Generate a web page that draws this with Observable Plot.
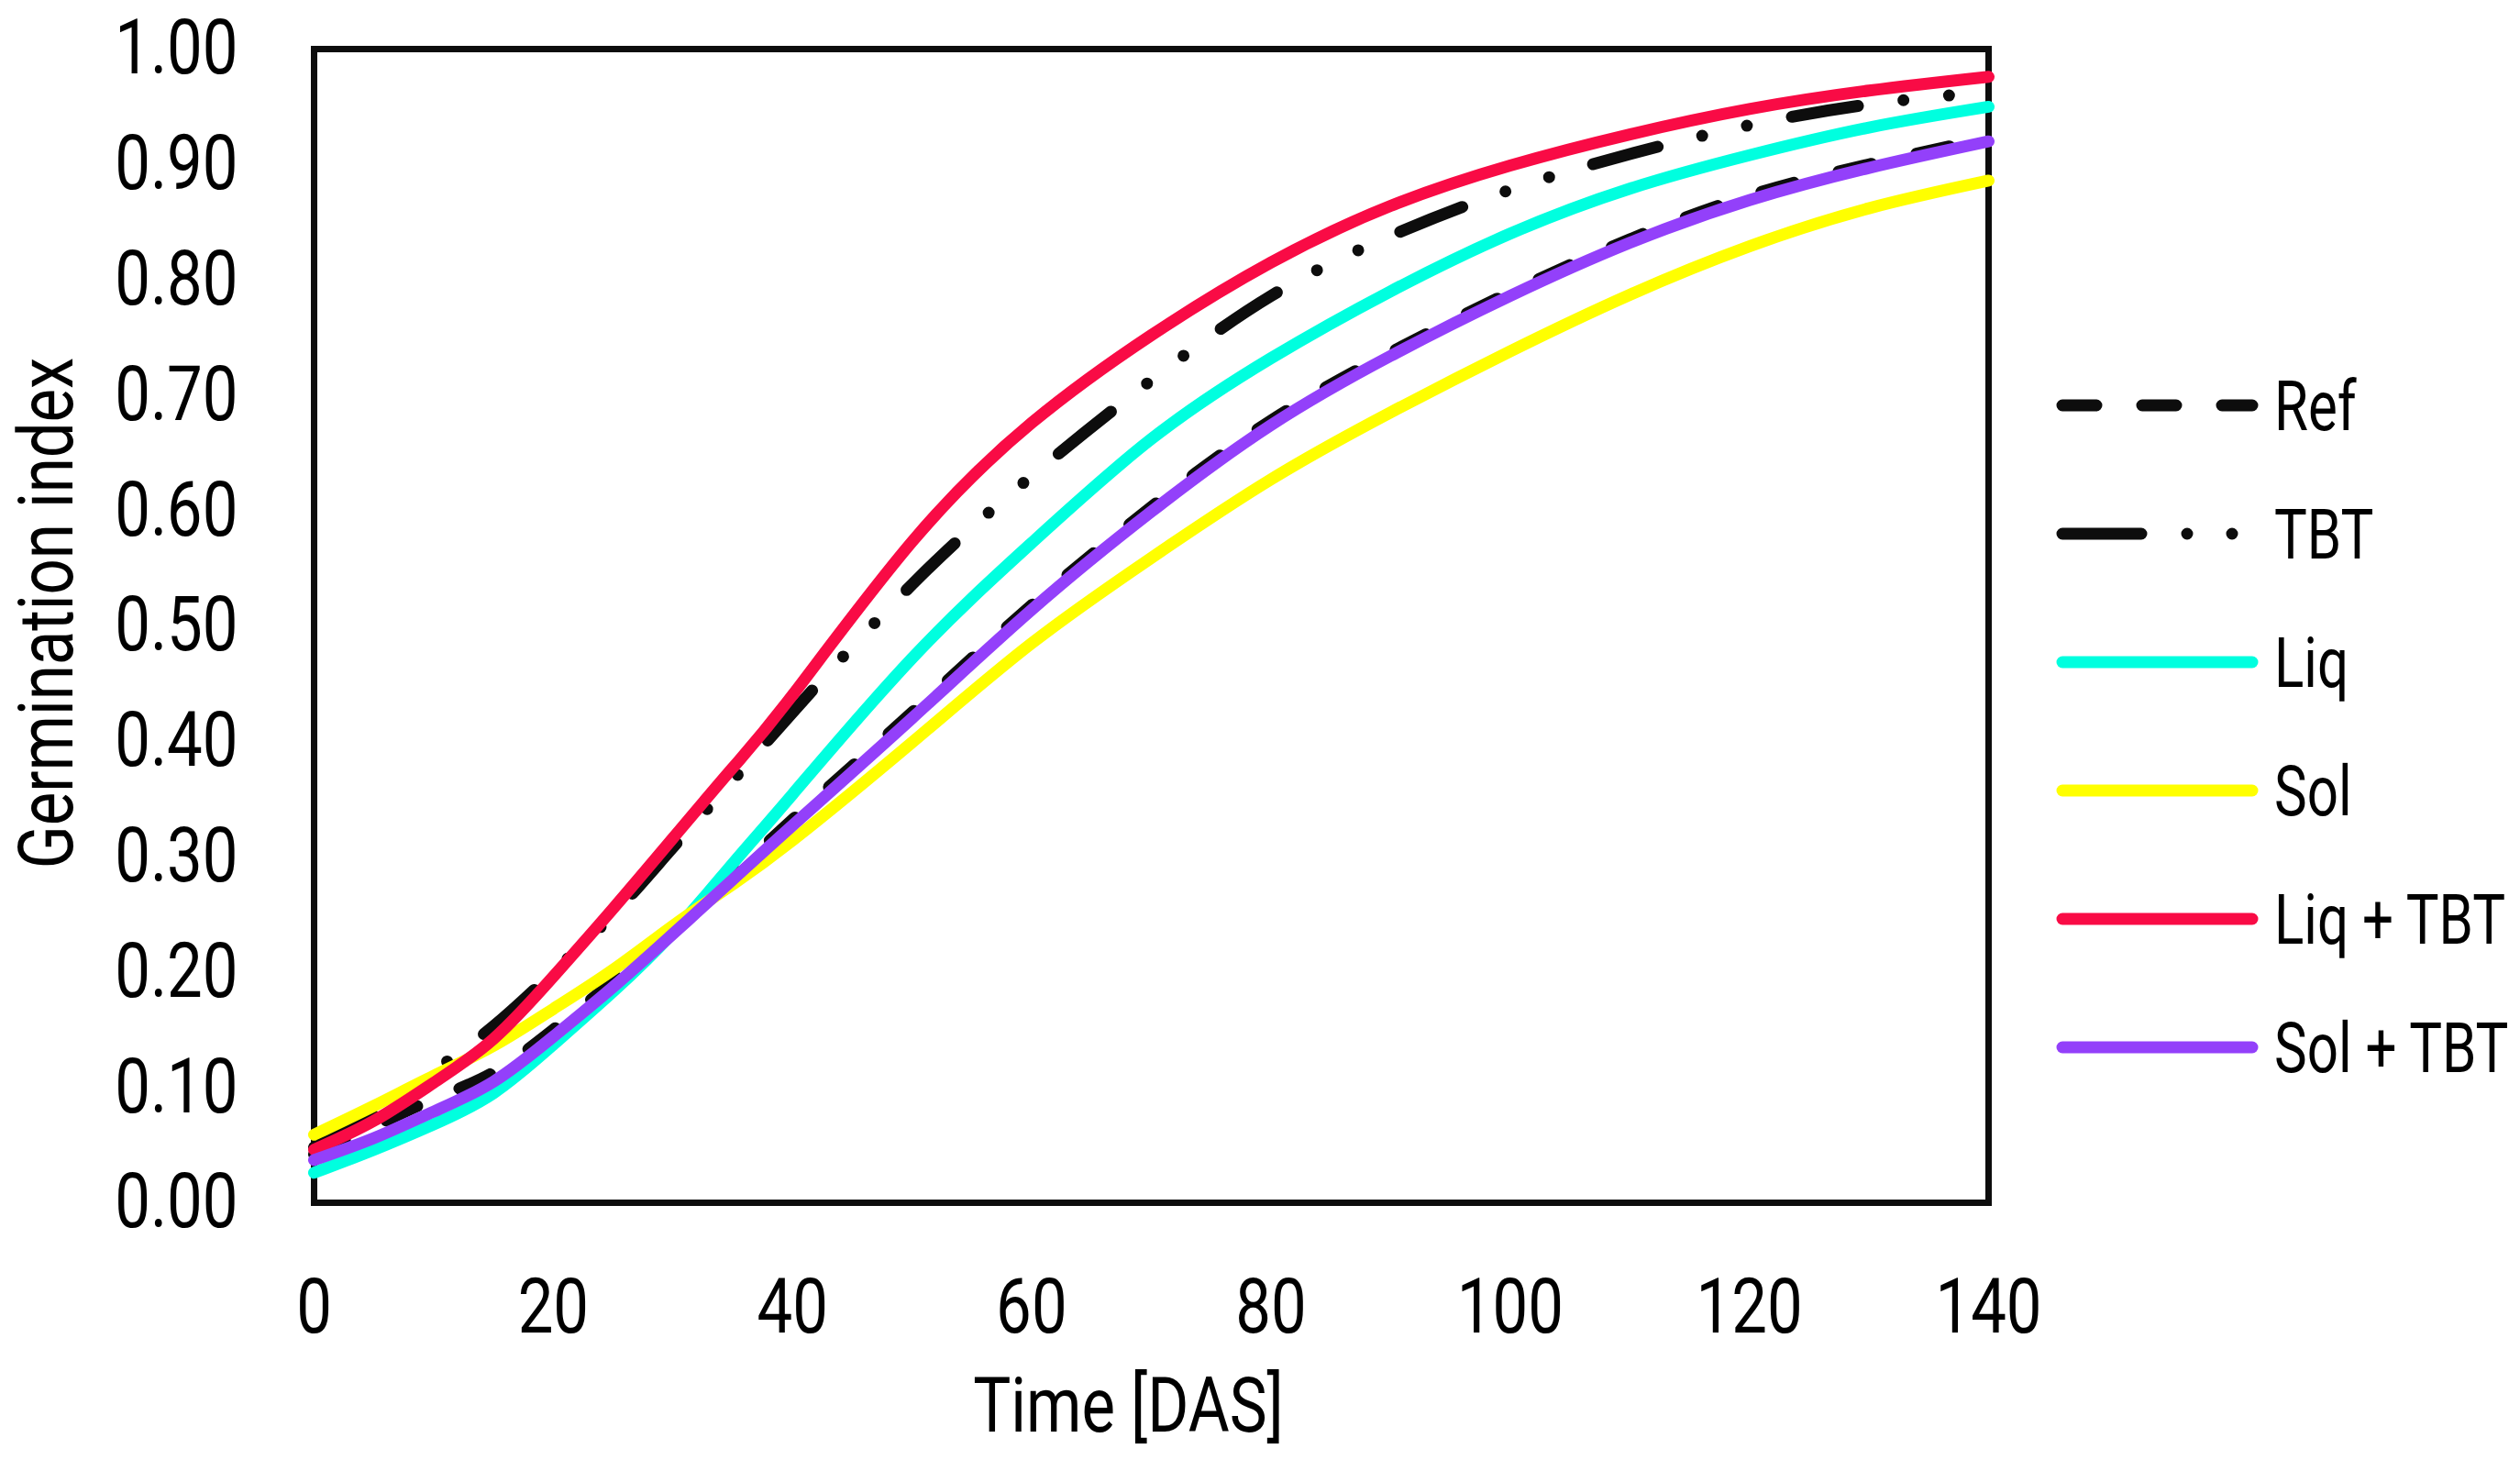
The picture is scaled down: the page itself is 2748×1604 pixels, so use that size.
<!DOCTYPE html>
<html>
<head>
<meta charset="utf-8">
<script src="https://cdn.jsdelivr.net/npm/d3@7"></script>
<script src="https://cdn.jsdelivr.net/npm/@observablehq/plot@0.6"></script>
<style>
  body { margin: 0; background: white; }
  #chart { position: relative; width: 2748px; height: 1604px; }
  #chart svg { position: absolute; left: 0; top: 0; }
</style>
</head>
<body>
<div id="chart"></div>
<script>
const days = [0, 5, 10, 15, 20, 25, 30, 35, 40, 50, 60, 70, 80, 90, 100, 110, 120, 130, 140]

// germination index per treatment
const ref    = [0.042, 0.066, 0.090, 0.113, 0.150, 0.192, 0.238, 0.284, 0.332, 0.425, 0.518, 0.603, 0.678, 0.737, 0.789, 0.835, 0.873, 0.900, 0.923]
const tbt    = [0.048, 0.077, 0.114, 0.153, 0.200, 0.250, 0.308, 0.366, 0.425, 0.536, 0.630, 0.713, 0.786, 0.838, 0.878, 0.909, 0.934, 0.952, 0.963]
const liq    = [0.026, 0.046, 0.068, 0.095, 0.137, 0.183, 0.234, 0.294, 0.354, 0.472, 0.572, 0.662, 0.732, 0.790, 0.840, 0.879, 0.908, 0.932, 0.950]
const sol    = [0.059, 0.084, 0.110, 0.136, 0.168, 0.202, 0.240, 0.276, 0.314, 0.399, 0.485, 0.559, 0.627, 0.685, 0.738, 0.787, 0.829, 0.862, 0.886]
const liqTbt = [0.046, 0.071, 0.104, 0.142, 0.196, 0.255, 0.316, 0.377, 0.440, 0.573, 0.676, 0.752, 0.815, 0.864, 0.899, 0.926, 0.948, 0.964, 0.976]
const solTbt = [0.037, 0.056, 0.079, 0.105, 0.144, 0.187, 0.233, 0.280, 0.327, 0.420, 0.514, 0.599, 0.674, 0.734, 0.786, 0.832, 0.869, 0.897, 0.920]

const seriesNames = ["Ref", "TBT", "Liq", "Sol", "Liq + TBT", "Sol + TBT"]
const seriesValues = [ref, tbt, liq, sol, liqTbt, solTbt]
const seriesColors = ["#0d0d0d", "#0d0d0d", "#00ffdf", "#ffff00", "#f90b45", "#9340fa"]
const seriesDash = ["37,50", "73,50,0,50,0,50", null, null, null, null]

const xTicks = [0, 20, 40, 60, 80, 100, 120, 140]
const yTicks = [0, 0.1, 0.2, 0.3, 0.4, 0.5, 0.6, 0.7, 0.8, 0.9, 1.0]

const font = "Roboto, 'Liberation Sans', sans-serif"
// the original uses a narrow face, squeeze the text to match
const squeeze = 0.82
const legendSqueeze = 0.79

// one row per point
const rows = seriesNames.flatMap((name, i) =>
  days.map((d, j) => ({series: name, day: d, value: seriesValues[i][j]})))

const lineMarks = seriesNames.map((name, i) =>
  Plot.line(rows.filter(r => r.series == name), {
    x: "day",
    y: "value",
    stroke: seriesColors[i],
    strokeWidth: 13,
    strokeDasharray: seriesDash[i],
    strokeLinecap: "round",
    curve: "natural"
  }))

const chart = Plot.plot({
  width: 2748,
  height: 1604,
  marginTop: 53,
  marginRight: 580,
  marginBottom: 293,
  marginLeft: 342,
  x: {domain: [0, 140]},
  y: {domain: [0, 1]},
  style: {fontFamily: font, fontSize: "84px", background: "white", color: "#000"},
  marks: [
    Plot.frame({stroke: "#0d0d0d", strokeWidth: 7}),
    Plot.axisX({ticks: xTicks, tickSize: 0, tickPadding: 82, label: null, fontSize: 84}),
    Plot.axisY({ticks: yTicks, tickSize: 0, tickPadding: 83, tickFormat: d3.format(".2f"), label: null, fontSize: 84}),
    ...lineMarks,
    Plot.text(["Time [DAS]"], {text: d => d, frameAnchor: "bottom", lineAnchor: "middle", dy: 223, dx: -25, fontSize: 84}),
    Plot.text(["Germination index"], {text: d => d, frameAnchor: "left", textAnchor: "middle", lineAnchor: "middle", rotate: -90, dx: -290, dy: -14, fontSize: 84})
  ]
})

d3.select("#chart").append(() => chart)

// squeeze the plot texts
d3.select(chart).selectAll("text").each(function() {
  if (this.querySelector("tspan")) return
  const len = this.getComputedTextLength()
  this.setAttribute("textLength", len * squeeze)
  this.setAttribute("lengthAdjust", "spacingAndGlyphs")
})

// legend on the right
const legend = d3.select("#chart").append("svg")
  .attr("width", 2748)
  .attr("height", 1604)
  .style("pointer-events", "none")

const legendDash = ["37,50", "86,50,0,49,0,100", null, null, null, null]
const legendEnd = [2456, 2436, 2456, 2456, 2456, 2456]

seriesNames.forEach((name, i) => {
  const y = 442 + i * 140
  legend.append("line")
    .attr("x1", 2249).attr("x2", legendEnd[i])
    .attr("y1", y).attr("y2", y)
    .attr("stroke", seriesColors[i])
    .attr("stroke-width", 13)
    .attr("stroke-linecap", "round")
    .attr("stroke-dasharray", legendDash[i])
  const t = legend.append("text")
    .attr("x", 2480)
    .attr("y", y + 27)
    .attr("font-family", font)
    .attr("font-size", 76)
    .attr("fill", "#000")
    .text(name)
  const len = t.node().getComputedTextLength()
  t.attr("textLength", len * legendSqueeze).attr("lengthAdjust", "spacingAndGlyphs")
})
</script>
</body>
</html>
